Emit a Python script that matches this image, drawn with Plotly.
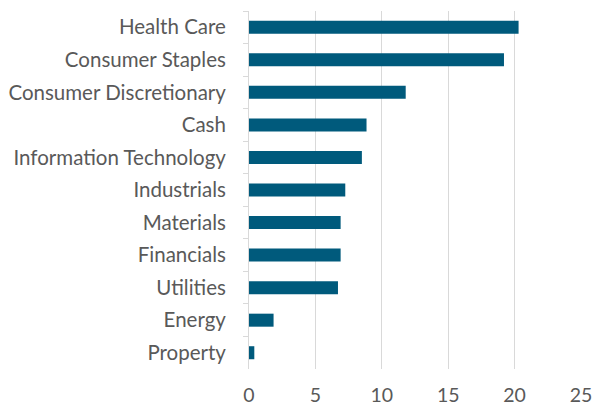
import plotly.graph_objects as go

sectors = [
    "Health Care", "Consumer Staples", "Consumer Discretionary", "Cash",
    "Information Technology", "Industrials", "Materials", "Financials",
    "Utilities", "Energy", "Property",
]
weights = [20.3, 19.2, 11.8, 8.85, 8.5, 7.25, 6.9, 6.9, 6.7, 1.85, 0.4]
x_ticks = [0, 5, 10, 15, 20, 25]

fig = go.Figure(
    go.Bar(
        x=weights,
        y=sectors,
        orientation="h",
        marker=dict(color="#005a7c", line=dict(width=0)),
        width=0.4,
    )
)

fig.update_layout(
    width=594,
    height=409,
    margin=dict(l=249, r=13, t=11, b=40),
    paper_bgcolor="white",
    plot_bgcolor="white",
    showlegend=False,
    font=dict(family="Lato, Open Sans, sans-serif", size=20.5, color="#595959"),
    bargap=0.6,
)

fig.update_xaxes(
    range=[0, 25],
    tickvals=x_ticks,
    tickfont=dict(size=19.5),
    showgrid=True,
    gridcolor="#d9d9d9",
    gridwidth=1,
    zeroline=False,
    showline=False,
    ticks="",
    ticklabelstandoff=12,
    automargin=False,
    fixedrange=True,
)

fig.update_yaxes(
    autorange="reversed",
    showline=True,
    linecolor="#d9d9d9",
    linewidth=1,
    ticks="outside",
    ticklen=5,
    tickcolor="#d9d9d9",
    tickson="boundaries",
    ticklabelstandoff=18,
    automargin=False,
    showgrid=False,
    fixedrange=True,
)

fig.write_html("out.html")
